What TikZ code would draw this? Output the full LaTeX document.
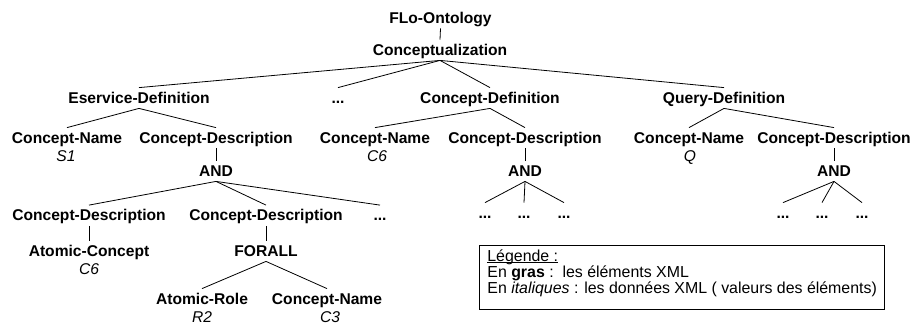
\documentclass[tikz,border=0pt]{standalone}
\usepackage{fontspec}
\setmainfont{Liberation Sans}
\newcommand\legunder[1]{\setbox0\hbox{#1}\rlap{\rule[-1.8pt]{\wd0}{0.7pt}}\box0}

\begin{document}
\begin{tikzpicture}[x=1pt,y=-1pt,line width=0.8pt,
  elem/.style={font=\fontsize{15.6}{17}\selectfont\bfseries,anchor=base,
    inner xsep=0pt,inner ysep=2pt,text height=13pt,text depth=3pt},
  val/.style={font=\fontsize{15.6}{17}\selectfont\itshape,anchor=base,inner sep=0pt},
  leg/.style={font=\fontsize{15.9}{17}\selectfont,anchor=base west,inner sep=0pt}]
  \useasboundingbox (0,0) rectangle (915,325);

  % Root
  \node[elem] (flo) at (440.5,23) {FLo-Ontology};
  \node[elem] (concept) at (440,55) {Conceptualization};
  \draw (flo.south) -- (concept.north);

  % Definitions
  \node[elem] (eserv) at (139,103) {Eservice-Definition};
  \node[elem] (dots) at (338,103) {...};
  \node[elem] (cdef) at (490,103) {Concept-Definition};
  \node[elem] (qdef) at (724,103) {Query-Definition};
  \foreach \d in {eserv,dots,cdef,qdef}
    \draw (concept.south) -- (\d.north);

  % Names and descriptions
  \node[elem] (ename) at (67,143) {Concept-Name};
  \node[elem] (edesc) at (216,143) {Concept-Description};
  \node[elem] (cname) at (375,143) {Concept-Name};
  \node[elem] (cdesc) at (525,143) {Concept-Description};
  \node[elem] (qname) at (689,143) {Concept-Name};
  \node[elem] (qdesc) at (834,143) {Concept-Description};
  \draw (eserv.south) -- (ename.north);
  \draw (eserv.south) -- (edesc.north);
  \draw (cdef.south) -- (cname.north);
  \draw (cdef.south) -- (cdesc.north);
  \draw (qdef.south) -- (qname.north);
  \draw (qdef.south) -- (qdesc.north);

  % Values of the names
  \node[val] (s1) at (66,161) {S1};
  \node[val] (c6) at (377,161) {C6};
  \node[val] (q) at (690,161) {Q};

  % AND nodes
  \node[elem] (eand) at (216,176) {AND};
  \node[elem] (cand) at (525,176) {AND};
  \node[elem] (qand) at (834,176) {AND};
  \draw (edesc.south) -- (eand.north);
  \draw (cdesc.south) -- (cand.north);
  \draw (qdesc.south) -- (qand.north);

  % Children of the first AND
  \node[elem] (ecd1) at (89,220.5) {Concept-Description};
  \node[elem] (ecd2) at (266,220.5) {Concept-Description};
  \node[elem] (edots) at (380,220.5) {...};
  \foreach \c in {ecd1,ecd2,edots}
    \draw (eand.south) -- (\c.north);

  % Children of the other AND nodes
  \foreach \x/\n in {485/cd1,524/cd2,564/cd3}{
    \node[elem] (\n) at (\x,218) {...};
    \draw (cand.south) -- (\n.north);
  }
  \foreach \x/\n in {783/qd1,822/qd2,862/qd3}{
    \node[elem] (\n) at (\x,218) {...};
    \draw (qand.south) -- (\n.north);
  }

  % Atomic concept and FORALL
  \node[elem] (atomc) at (89,256) {Atomic-Concept};
  \node[val] (c6b) at (89,274) {C6};
  \node[elem] (forall) at (266,256) {FORALL};
  \draw (ecd1.south) -- (atomc.north);
  \draw (ecd2.south) -- (forall.north);

  \node[elem] (arole) at (202,304) {Atomic-Role};
  \node[val] (r2) at (202,322) {R2};
  \node[elem] (cname3) at (327,304) {Concept-Name};
  \node[val] (c3) at (330,322) {C3};
  \draw (forall.south) -- (arole.north);
  \draw (forall.south) -- (cname3.north);

  % Legend
  \node[draw,line width=0.9pt,anchor=north west,inner sep=0pt,
    minimum width=405pt,minimum height=64pt] (legend) at (479,245) {};
  \node[leg] (leg1) at (487,261) {\legunder{Légende :}};
  \node[leg] (leg2) at (487,277) {En \textbf{gras} :\ \ les éléments XML};
  \node[leg] (leg3) at (487,293) {En \textit{italiques} : les données XML ( valeurs des éléments)};
\end{tikzpicture}
\end{document}
